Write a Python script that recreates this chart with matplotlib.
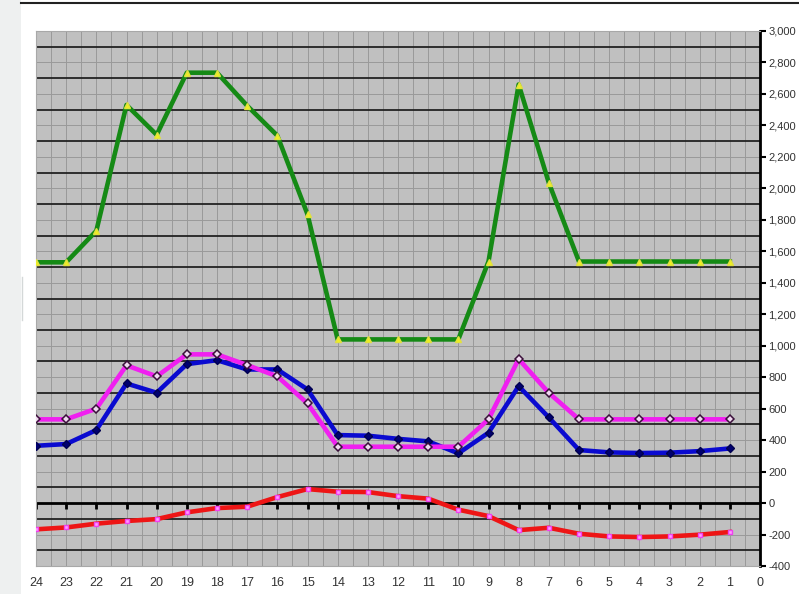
import matplotlib
matplotlib.use('Agg')
import matplotlib.pyplot as plt
import numpy as np
from matplotlib.ticker import FuncFormatter, MultipleLocator

plt.rcParams['font.family'] = ['Liberation Sans', 'DejaVu Sans']

# Hours, read right-to-left as in the original (24 ... 1)
hours = list(range(24, 0, -1))

green = [1530, 1530, 1730, 2530, 2340, 2735, 2735, 2525, 2335, 1835,
         1040, 1040, 1040, 1040, 1040, 1535, 2660, 2035, 1535, 1535,
         1535, 1535, 1535, 1535]
magenta = [532, 532, 600, 875, 805, 945, 945, 877, 805, 633,
           358, 358, 358, 358, 358, 532, 915, 700, 532, 532,
           532, 532, 532, 532]
blue = [364, 375, 464, 760, 701, 883, 908, 849, 849, 722,
        432, 428, 408, 392, 316, 447, 743, 544, 337, 322,
        318, 320, 330, 347]
red = [-167, -155, -131, -114, -102, -59, -32, -23, 38, 89,
       72, 70, 44, 28, -42, -83, -172, -157, -195, -212,
       -216, -212, -201, -184]

x_ticks = list(range(0, 25))
y_ticks = list(range(-400, 3001, 200))
dark_lines = list(range(-300, 3000, 200))

fig = plt.figure(figsize=(7.99, 5.94), dpi=100)
fig.patch.set_facecolor('white')

# light page strip on the left and rule at the top
fig.add_artist(plt.Rectangle((0, 0), 21 / 799, 1, transform=fig.transFigure,
                             facecolor='#eef0f0', edgecolor='none', zorder=0))
fig.add_artist(plt.Line2D([22 / 799, 22 / 799], [1 - 277 / 594, 1 - 320 / 594],
                          transform=fig.transFigure, color='#d4d8d8', lw=1))
fig.add_artist(plt.Line2D([21 / 799, 1], [1 - 3 / 594, 1 - 3 / 594],
                          transform=fig.transFigure, color='#222222', lw=1.5))

ax = fig.add_axes([36 / 799, 28 / 594, 724 / 799, 535 / 594])
ax.set_facecolor('#c0c0c0')
ax.set_xlim(24, 0)
ax.set_ylim(-400, 3000)

# grid
ax.set_xticks(x_ticks)
ax.xaxis.set_minor_locator(MultipleLocator(0.5))
ax.set_yticks(y_ticks)
ax.set_yticks(dark_lines, minor=True)
ax.grid(True, which='both', axis='x', color='#999999', lw=0.7)
ax.grid(True, which='major', axis='y', color='#999999', lw=0.7)
ax.grid(True, which='minor', axis='y', color='#222222', lw=1.3)
ax.set_axisbelow(True)

ax.axhline(0, color='black', lw=2, zorder=2)
ax.plot(x_ticks[1:], [0] * 24, linestyle='none', marker=3, markersize=4,
        markeredgewidth=2, color='black', zorder=2)

# series
ax.plot(hours, blue, color='#0a0ad0', lw=3.3, marker='D', markersize=4.2,
        markerfacecolor='#000070', markeredgecolor='#000050', zorder=3)
ax.plot(hours, magenta, color='#f020f0', lw=3.3, marker='D', markersize=4.5,
        markerfacecolor='#f0d8f0', markeredgecolor='#3a103a', markeredgewidth=1.1,
        zorder=4)
ax.plot(hours, red, color='#ee1515', lw=3.3, marker='s', markersize=3.5,
        markerfacecolor='#ff9cff', markeredgecolor='#f040f0', zorder=4)
ax.plot(hours, green, color='#158a15', lw=3.3, marker='^', markersize=4,
        markerfacecolor='#f0f020', markeredgecolor='#e0e040', zorder=5)

# axes styling
for side in ['left', 'top', 'bottom']:
    ax.spines[side].set_color('#a8a8a8')
    ax.spines[side].set_linewidth(0.8)
ax.spines['right'].set_color('black')
ax.spines['right'].set_linewidth(2)

ax.yaxis.tick_right()
ax.yaxis.set_major_formatter(FuncFormatter(lambda v, p: '{:,.0f}'.format(v)))
ax.tick_params(axis='y', which='major', direction='out', length=4, width=1.5,
               color='black', labelsize=8, labelcolor='#333333', pad=2)
ax.tick_params(axis='y', which='minor', length=0)
ax.tick_params(axis='x', which='both', length=0, labelsize=9,
               labelcolor='#333333', pad=8)

plt.savefig('out.png', dpi=100)
